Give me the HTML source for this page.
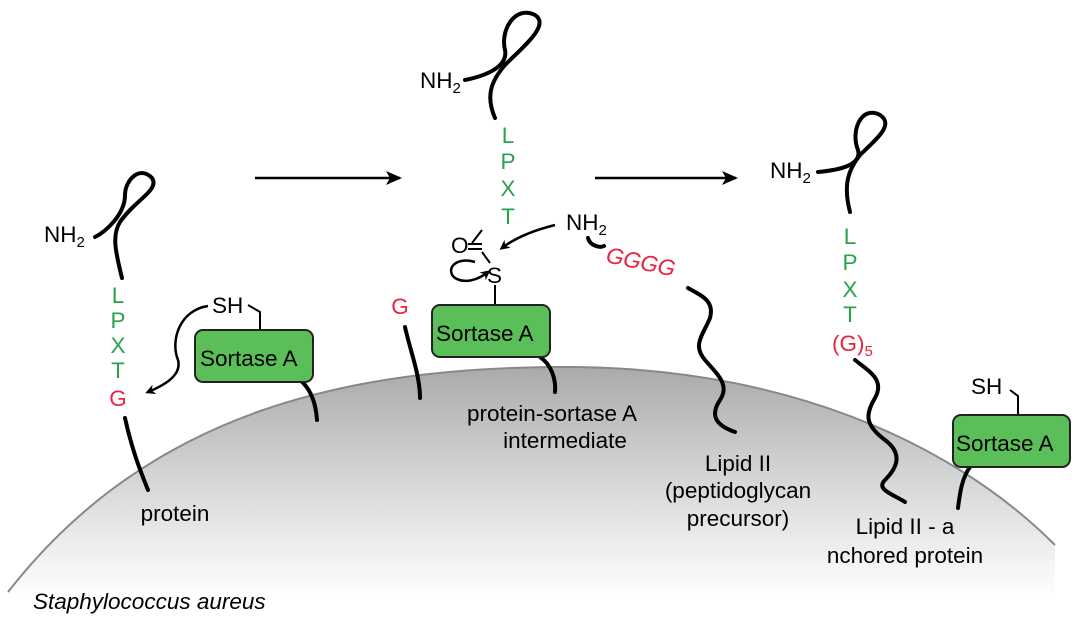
<!DOCTYPE html>
<html><head><meta charset="utf-8"><style>
body{margin:0;background:#fff}
svg{display:block}
text{font-family:"Liberation Sans",sans-serif;font-size:22.5px}
.g{fill:#2aa24e}.r{fill:#e8243f}
</style></head><body>
<svg width="1080" height="623" viewBox="0 0 1080 623">
<defs>
<linearGradient id="dome" x1="0" y1="0" x2="0" y2="1">
<stop offset="0" stop-color="#a9aaac"/><stop offset="0.45" stop-color="#d2d3d5"/><stop offset="0.85" stop-color="#f4f4f4"/><stop offset="1" stop-color="#ffffff"/>
</linearGradient>
<marker id="ah" markerWidth="10" markerHeight="10" refX="7" refY="5" orient="auto" markerUnits="userSpaceOnUse"><path d="M0,0 L10,5 L0,10 L3,5z" fill="#000"/></marker>
<marker id="ah2" markerWidth="16" markerHeight="14" refX="14" refY="7" orient="auto" markerUnits="userSpaceOnUse"><path d="M0,0 L16,7 L0,14 L4,7z" fill="#000"/></marker>
</defs>
<path d="M8,592 C150,410 350,368 560,367 C780,366 950,440 1055,545 L1055,600 L8,600Z" fill="url(#dome)"/>
<path d="M8,592 C150,410 350,368 560,367 C780,366 950,440 1055,545" fill="none" stroke="#888" stroke-width="2"/>
<rect x="0" y="593" width="1080" height="30" fill="#fff"/>
<g fill="none" stroke="#000" stroke-width="4" stroke-linecap="round">
<path d="M122,278 C115,250 112,235 120,222 C135,200 160,190 152,178 C140,165 125,180 125,195 C125,215 105,232 95,237"/>
<path d="M125,418 C132,450 140,470 148,490"/>
<path d="M300,380 C312,390 316,405 317,420"/>
<path d="M495,118 C485,95 492,80 505,65 C525,45 550,25 535,15 C515,5 500,30 505,50 C508,65 490,75 465,80"/>
<path d="M405,327 C410,350 420,375 420,398"/>
<path d="M540,357 C552,365 556,380 555,392"/>
<path d="M588,238 C590,246 600,248 604,246"/>
<path d="M688,288 C700,295 715,300 710,318 C703,335 692,345 705,360 C718,375 730,385 720,400 C710,415 715,425 735,432"/>
<path d="M850,212 C843,185 848,170 860,155 C875,140 895,125 880,115 C862,105 850,130 858,150 C862,165 840,170 818,172"/>
<path d="M855,360 C870,372 885,380 875,398 C865,415 865,425 885,440 C905,455 895,470 885,480 C875,490 895,495 905,502"/>
<path d="M970,467 C962,478 960,492 958,508"/>
</g>
<g fill="none" stroke="#000" stroke-width="2">
<path d="M482,230 L472,243"/><path d="M482,244 L468,244 M482,249 L468,249"/><path d="M482,252 L490,263"/>
<path d="M495,285 L495,305"/>
<path d="M248,305 L260,312 L260,330"/>
<path d="M1010,390 L1018,396 L1018,415"/>
</g>
<g fill="none" stroke="#000" stroke-width="2.5">
<path d="M255,178 L400,178" marker-end="url(#ah2)"/>
<path d="M595,178 L736,178" marker-end="url(#ah2)"/>
<path d="M208,306 C180,310 170,340 178,360 C182,375 165,385 148,392" marker-end="url(#ah)"/>
<path d="M555,225 C535,230 515,238 502,248" marker-end="url(#ah)"/>
<path d="M475,262 C455,256 445,270 455,278 C465,284 478,280 488,272" marker-end="url(#ah)"/>
</g>
<g stroke="#222" stroke-width="2" fill="#5bbf59">
<rect x="195" y="330" width="118" height="52" rx="8"/>
<rect x="432" y="305" width="118" height="52" rx="8"/>
<rect x="953" y="415" width="117" height="52" rx="8"/>
</g>
<text x="200" y="366">Sortase A</text>
<text x="436" y="341">Sortase A</text>
<text x="956" y="451">Sortase A</text>
<text x="44" y="242">NH<tspan font-size="15" dy="5">2</tspan></text>
<text x="420" y="88">NH<tspan font-size="15" dy="5">2</tspan></text>
<text x="566" y="230">NH<tspan font-size="15" dy="5">2</tspan></text>
<text x="770" y="178">NH<tspan font-size="15" dy="5">2</tspan></text>
<g class="g" text-anchor="middle">
<text x="118" y="303">L</text><text x="118" y="328">P</text><text x="118" y="353">X</text><text x="118" y="378">T</text>
<text x="508" y="143">L</text><text x="508" y="169">P</text><text x="508" y="196">X</text><text x="508" y="224">T</text>
<text x="850" y="244">L</text><text x="850" y="270">P</text><text x="850" y="297">X</text><text x="850" y="322">T</text>
</g>
<text class="r" x="118" y="406" text-anchor="middle">G</text>
<text class="r" x="400" y="314" text-anchor="middle">G</text>
<text class="r" x="605" y="262" font-style="italic" transform="rotate(12 605 262)">GGGG</text>
<text class="r" x="832" y="351">(G)<tspan font-size="15" dy="5">5</tspan></text>
<text x="451" y="253">O</text>
<text x="487" y="283">S</text>
<text x="212" y="313">SH</text>
<text x="971" y="394">SH</text>
<g text-anchor="middle">
<text x="175" y="521">protein</text>
<text x="552" y="421">protein-sortase A</text>
<text x="565" y="448">intermediate</text>
<text x="738" y="471">Lipid II</text>
<text x="738" y="498">(peptidoglycan</text>
<text x="738" y="526">precursor)</text>
<text x="905" y="534">Lipid II - a</text>
<text x="905" y="563">nchored protein</text>
</g>
<text x="33" y="609" font-style="italic" font-size="21">Staphylococcus aureus</text>
</svg>
</body></html>
